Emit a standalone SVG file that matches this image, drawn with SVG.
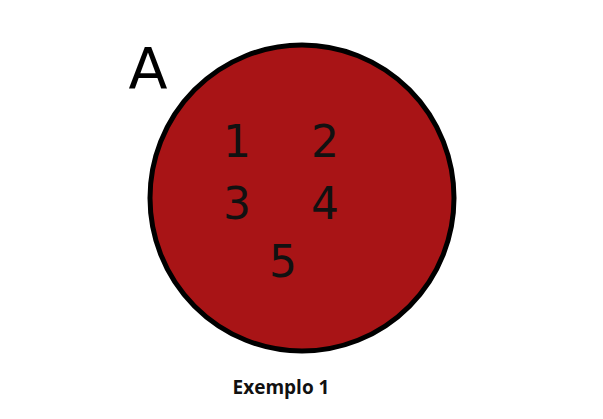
<svg xmlns="http://www.w3.org/2000/svg" width="603" height="419" viewBox="0 0 603 419">
<style>
.num{font-family:"DejaVu Sans",sans-serif;font-size:44px;fill:#111;text-anchor:middle}
</style>
<rect width="603" height="419" fill="#fff"/>
<g id="setA">
<ellipse cx="302" cy="198" rx="152" ry="153" fill="#A81416" stroke="#000" stroke-width="5"/>
<text x="148" y="89" font-family="DejaVu Sans,sans-serif" font-size="57" text-anchor="middle" fill="#000">A</text>
<text class="num" x="237" y="157">1</text>
<text class="num" x="325" y="157">2</text>
<text class="num" x="237" y="219">3</text>
<text class="num" x="325" y="219">4</text>
<text class="num" x="283" y="277">5</text>
</g>
<g id="connectors"></g>
<text x="281" y="394" font-family="Open Sans,sans-serif" font-weight="bold" font-size="19" text-anchor="middle" textLength="97" lengthAdjust="spacingAndGlyphs" fill="#111">Exemplo 1</text>
</svg>
